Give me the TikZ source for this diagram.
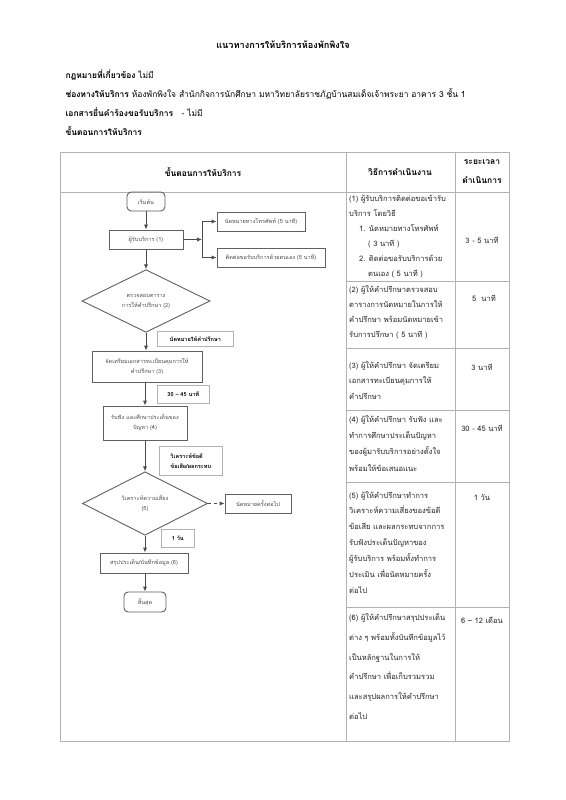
\documentclass[tikz,border=0pt]{standalone}
\usepackage{fontspec}
\setmainfont[Script=Thai]{Loma}
\usepackage{tikz}
\usetikzlibrary{arrows.meta,positioning,shapes.geometric}
\tikzset{
    flowBox/.style={
        draw=gray!75!black,
        line width=0.9pt,
        align=center,
        inner sep=1pt,
        text=black!70,
        font=\fontsize{5.6}{10}\selectfont
    },
    flowTerm/.style={
        flowBox,
        rounded corners=1.5mm
    },
    flowDecision/.style={
        flowBox,
        diamond,
        inner sep=0pt
    },
    flowTag/.style={
        draw=gray!60,
        line width=0.6pt,
        align=left,
        anchor=north west,
        inner sep=3pt,
        font=\fontsize{5.6}{10.5}\selectfont\bfseries
    },
    flowArrow/.style={
        -{Latex[length=5pt,width=4.4pt]},
        line width=1pt,
        draw=gray!60!black
    },
    flowDashed/.style={
        flowArrow,
        dashed
    },
    tableLine/.style={
        draw=gray!60,
        line width=0.8pt
    },
    cellText/.style={
        anchor=north west,
        align=left,
        inner sep=0pt,
        text=black!85,
        font=\fontsize{7.6}{15.5}\selectfont
    },
    timeText/.style={
        text=black!85,
        font=\fontsize{7.6}{10}\selectfont
    }
}

\begin{document}
\begin{tikzpicture}[x=1bp,y=-1bp]
    \useasboundingbox[fill=white] (0,0) rectangle (566,800);

    % heading
    \node[font=\fontsize{9.2}{11}\selectfont\bfseries] (title) at (283,45) {แนวทางการให้บริการห้องพักพิงใจ};
    \node[anchor=west,font=\fontsize{8.5}{11}\selectfont] (law) at (62,75) {\textbf{กฎหมายที่เกี่ยวข้อง} ไม่มี};
    \node[anchor=west,font=\fontsize{8.5}{11}\selectfont] (channel) at (62,94) {\textbf{ช่องทางให้บริการ} ห้องพักพิงใจ สำนักกิจการนักศึกษา มหาวิทยาลัยราชภัฏบ้านสมเด็จเจ้าพระยา อาคาร 3 ชั้น 1};
    \node[anchor=west,font=\fontsize{8.5}{11}\selectfont] (docs) at (62,112) {\textbf{เอกสารยื่นคำร้องขอรับบริการ}\quad - ไม่มี};
    \node[anchor=west,font=\fontsize{8.5}{11}\selectfont\bfseries] (steps) at (62,131) {ขั้นตอนการให้บริการ};

    % table
    \draw[tableLine] (60,152) rectangle (509,741);
    \draw[tableLine] (60,192) -- (509,192);
    \draw[tableLine] (346,152) -- (346,741);
    \draw[tableLine] (455,152) -- (455,741);
    \foreach \y in {281,348,410,482,607}
        \draw[tableLine] (346,\y) -- (509,\y);

    \node[font=\fontsize{8.5}{11}\selectfont\bfseries] (headA) at (203,172) {ขั้นตอนการให้บริการ};
    \node[font=\fontsize{8.5}{11}\selectfont\bfseries] (headB) at (400,172) {วิธีการดำเนินงาน};
    \node[font=\fontsize{8.5}{19}\selectfont\bfseries,align=center] (headC) at (482,172) {ระยะเวลา\\ดำเนินการ};

    \node[cellText,font=\fontsize{7.6}{15}\selectfont] (doA) at (349,195) {(1) ผู้รับบริการติดต่อขอเข้ารับ\\
        บริการ โดยวิธี\\
        \hspace*{10bp}1. นัดหมายทางโทรศัพท์\\
        \hspace*{19bp}( 3 นาที )\\
        \hspace*{10bp}2. ติดต่อขอรับบริการด้วย\\
        \hspace*{19bp}ตนเอง ( 5 นาที )};
    \node[cellText,font=\fontsize{7.6}{15.3}\selectfont] (doB) at (349,285) {(2) ผู้ให้คำปรึกษาตรวจสอบ\\
        ตารางการนัดหมายในการให้\\
        คำปรึกษา พร้อมนัดหมายเข้า\\
        รับการปรึกษา ( 5 นาที )};
    \node[cellText,font=\fontsize{7.6}{16}\selectfont] (doC) at (349,361) {(3) ผู้ให้คำปรึกษา จัดเตรียม\\
        เอกสารทะเบียนคุมการให้\\
        คำปรึกษา};
    \node[cellText,font=\fontsize{7.6}{16.5}\selectfont] (doD) at (349,415) {(4) ผู้ให้คำปรึกษา รับฟัง และ\\
        ทำการศึกษาประเด็นปัญหา\\
        ของผู้มารับบริการอย่างตั้งใจ\\
        พร้อมให้ข้อเสนอแนะ};
    \node[cellText,font=\fontsize{7.6}{16}\selectfont] (doE) at (349,491) {(5) ผู้ให้คำปรึกษาทำการ\\
        วิเคราะห์ความเสี่ยงของข้อดี\\
        ข้อเสีย และผลกระทบจากการ\\
        รับฟังประเด็นปัญหาของ\\
        ผู้รับบริการ พร้อมทั้งทำการ\\
        ประเมิน เพื่อนัดหมายครั้ง\\
        ต่อไป};
    \node[cellText,font=\fontsize{7.6}{20}\selectfont] (doF) at (349,613) {(6) ผู้ให้คำปรึกษาสรุปประเด็น\\
        ต่าง ๆ พร้อมทั้งบันทึกข้อมูลไว้\\
        เป็นหลักฐานในการให้\\
        คำปรึกษา เพื่อเก็บรวมรวม\\
        และสรุปผลการให้คำปรึกษา\\
        ต่อไป};

    \node[timeText] (timeA) at (482,240) {3 - 5 นาที};
    \node[timeText] (timeB) at (484,298) {5\ \ นาที};
    \node[timeText] (timeC) at (482,367) {3 นาที};
    \node[timeText] (timeD) at (482,428) {30 - 45 นาที};
    \node[timeText] (timeE) at (482,497) {1 วัน};
    \node[timeText] (timeF) at (482,620) {6 – 12 เดือน};

    % flowchart
    \node[flowTerm,minimum width=38bp,minimum height=19bp] (start) at (146,201.5) {เริ่มต้น};
    \node[flowBox,minimum width=74bp,minimum height=19bp] (client) at (146,239.5) {ผู้รับบริการ (1)};
    \coordinate (fork) at (202,239.5);
    \node[flowBox,minimum width=88bp,minimum height=19bp] (phone) at (261,221.5) {นัดหมายทางโทรศัพท์ (5 นาที)};
    \node[flowBox,minimum width=108bp,minimum height=19bp] (walkin) at (271,257.5) {ติดต่อขอรับบริการด้วยตนเอง (5 นาที)};
    \node[flowDecision,minimum width=128bp,minimum height=58bp] (check) at (146,301) {ตรวจสอบตาราง\\การให้คำปรึกษา (2)};
    \node[flowTag,minimum width=76bp,minimum height=15bp] (tagA) at (157,331) {นัดหมายให้คำปรึกษา};
    \node[flowBox,minimum width=110bp,minimum height=31bp] (prepare) at (147,366.5) {จัดเตรียมเอกสารทะเบียนคุมการให้\\คำปรึกษา (3)};
    \node[flowTag,minimum width=52bp,minimum height=18bp] (tagB) at (157,385) {30 – 45 นาที};
    \node[flowBox,minimum width=84bp,minimum height=34bp] (listen) at (145,423) {รับฟัง และศึกษาประเด็นของ\\ปัญหา (4)};
    \node[flowTag,minimum width=63bp,minimum height=29bp] (tagC) at (159,446) {วิเคราะห์ข้อดี\\ข้อเสีย/ผลกระทบ};
    \node[flowDecision,minimum width=125bp,minimum height=59bp] (risk) at (145,503.5) {วิเคราะห์ความเสี่ยง\\(5)};
    \node[flowBox,minimum width=66bp,minimum height=19bp] (nextvisit) at (258,503.5) {นัดหมายครั้งต่อไป};
    \node[flowTag,minimum width=33bp,minimum height=18bp] (tagD) at (161,529) {1 วัน};
    \node[flowBox,minimum width=88bp,minimum height=20bp] (summary) at (144,563) {สรุปประเด็น/บันทึกข้อมูล (6)};
    \node[flowTerm,minimum width=42bp,minimum height=20bp] (finish) at (145,602) {สิ้นสุด};

    \draw[flowArrow] (start) -- (client);
    \draw[flowArrow] (client) -- (fork);
    \draw[flowArrow] (fork) |- (phone);
    \draw[flowArrow] (fork) |- (walkin);
    \draw[flowArrow] (client) -- (check);
    \draw[flowArrow] (check) -- (check.south |- prepare.north);
    \draw[flowArrow] (prepare.south -| listen) -- (listen);
    \draw[flowArrow] (listen) -- (risk);
    \draw[flowDashed] (risk) -- (nextvisit);
    \draw[flowArrow] (risk) -- (risk.south |- summary.north);
    \draw[flowArrow] (summary.south -| finish) -- (finish);
\end{tikzpicture}
\end{document}
